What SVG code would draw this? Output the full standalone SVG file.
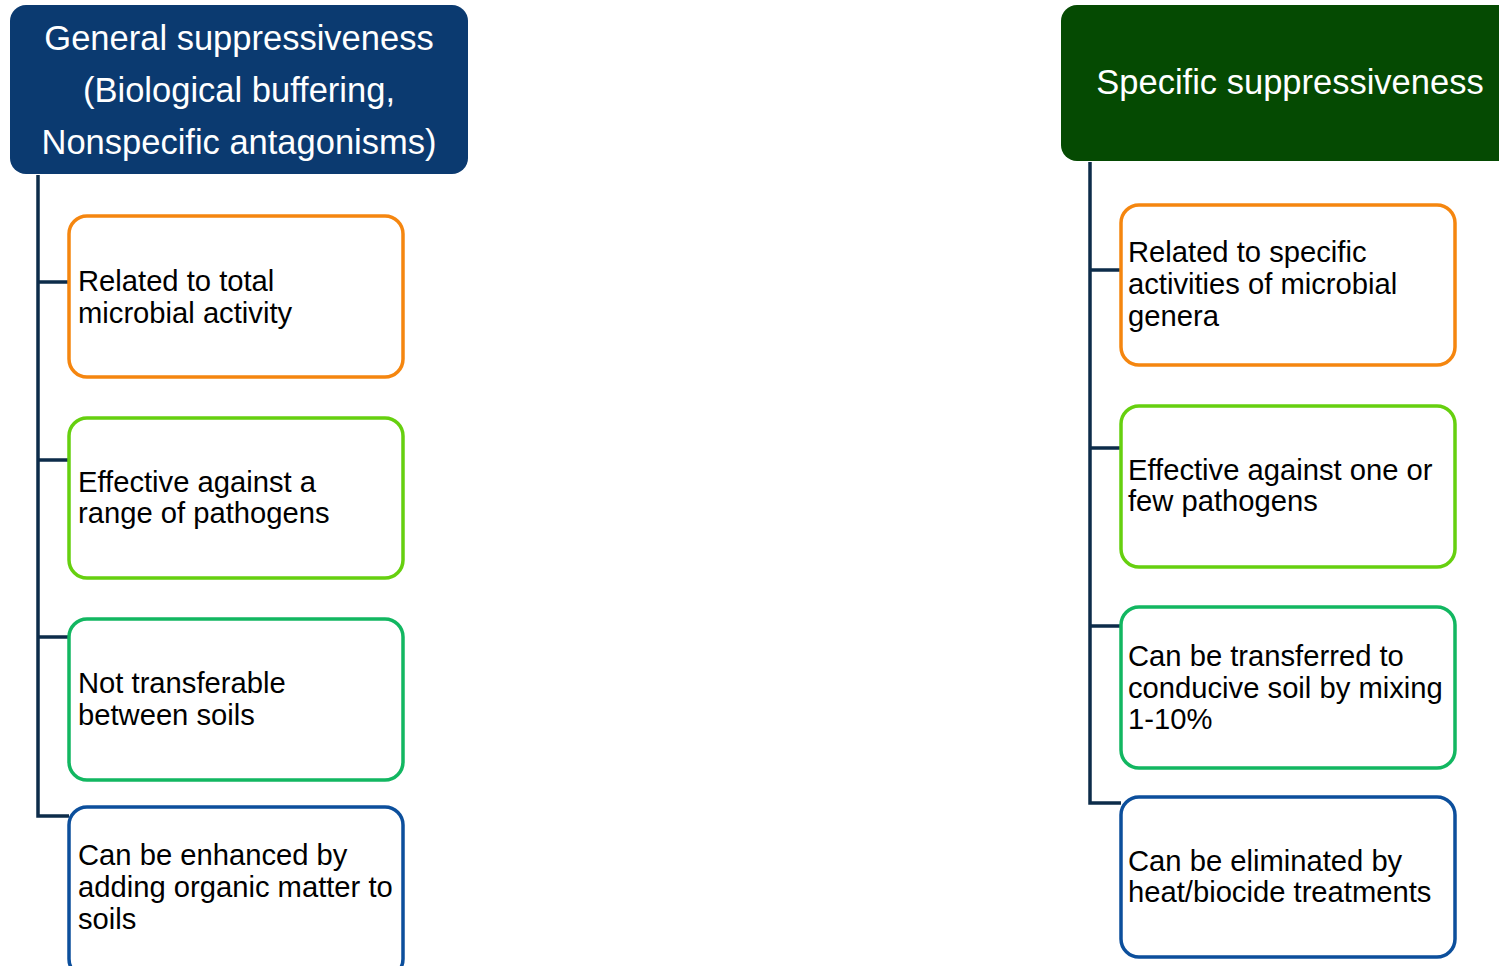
<svg xmlns="http://www.w3.org/2000/svg" width="1499" height="966" viewBox="0 0 1499 966">
<style>
.hdr{font-family:"Liberation Sans",Arial,sans-serif;font-size:34.5px;fill:#ffffff;text-anchor:middle}
.txt{font-family:"Liberation Sans",Arial,sans-serif;font-size:29.2px;fill:#000000}
.box{fill:#ffffff;stroke-width:3.5}
.or{stroke:#f5860f}
.lg{stroke:#66d00f}
.gr{stroke:#12b761}
.bl{stroke:#0c4f9c}
.con{fill:none;stroke:#0d2c4a;stroke-width:3.5}
</style>
<rect width="1499" height="966" fill="#ffffff"/>
<g id="connectors">
<path class="con" d="M38,175 V816 H69 M38,282 H69 M38,460 H69 M38,637 H69"/>
<path class="con" d="M1090,162 V803 H1121 M1090,270 H1121 M1090,448 H1121 M1090,626 H1121"/>
</g>
<g id="general">
<rect x="10" y="5" width="458" height="169" rx="16" fill="#0b3a70"/>
<text class="hdr" x="239" y="50">General suppressiveness</text>
<text class="hdr" x="239" y="102">(Biological buffering,</text>
<text class="hdr" x="239" y="154">Nonspecific antagonisms)</text>
</g>
<g id="specific">
<rect x="1061" y="5" width="460" height="156" rx="16" fill="#054a02"/>
<text class="hdr" x="1290" y="94">Specific suppressiveness</text>
</g>
<g id="g1">
<rect class="box or" x="69" y="216" width="334" height="161" rx="18"/>
<text class="txt" x="78" y="291">Related to total</text>
<text class="txt" x="78" y="323">microbial activity</text>
</g>
<g id="g2">
<rect class="box lg" x="69" y="418" width="334" height="160" rx="18"/>
<text class="txt" x="78" y="492">Effective against a</text>
<text class="txt" x="78" y="523">range of pathogens</text>
</g>
<g id="g3">
<rect class="box gr" x="69" y="619" width="334" height="161" rx="18"/>
<text class="txt" x="78" y="693">Not transferable</text>
<text class="txt" x="78" y="725">between soils</text>
</g>
<g id="g4">
<rect class="box bl" x="69" y="807" width="334" height="170" rx="18"/>
<text class="txt" x="78" y="865">Can be enhanced by</text>
<text class="txt" x="78" y="897">adding organic matter to</text>
<text class="txt" x="78" y="929">soils</text>
</g>
<g id="s1">
<rect class="box or" x="1121" y="205" width="334" height="160" rx="18"/>
<text class="txt" x="1128" y="262">Related to specific</text>
<text class="txt" x="1128" y="294">activities of microbial</text>
<text class="txt" x="1128" y="326">genera</text>
</g>
<g id="s2">
<rect class="box lg" x="1121" y="406" width="334" height="161" rx="18"/>
<text class="txt" x="1128" y="480">Effective against one or</text>
<text class="txt" x="1128" y="511">few pathogens</text>
</g>
<g id="s3">
<rect class="box gr" x="1121" y="607" width="334" height="161" rx="18"/>
<text class="txt" x="1128" y="666">Can be transferred to</text>
<text class="txt" x="1128" y="698">conducive soil by mixing</text>
<text class="txt" x="1128" y="729">1-10%</text>
</g>
<g id="s4">
<rect class="box bl" x="1121" y="797" width="334" height="160" rx="18"/>
<text class="txt" x="1128" y="871">Can be eliminated by</text>
<text class="txt" x="1128" y="902">heat/biocide treatments</text>
</g>
</svg>
